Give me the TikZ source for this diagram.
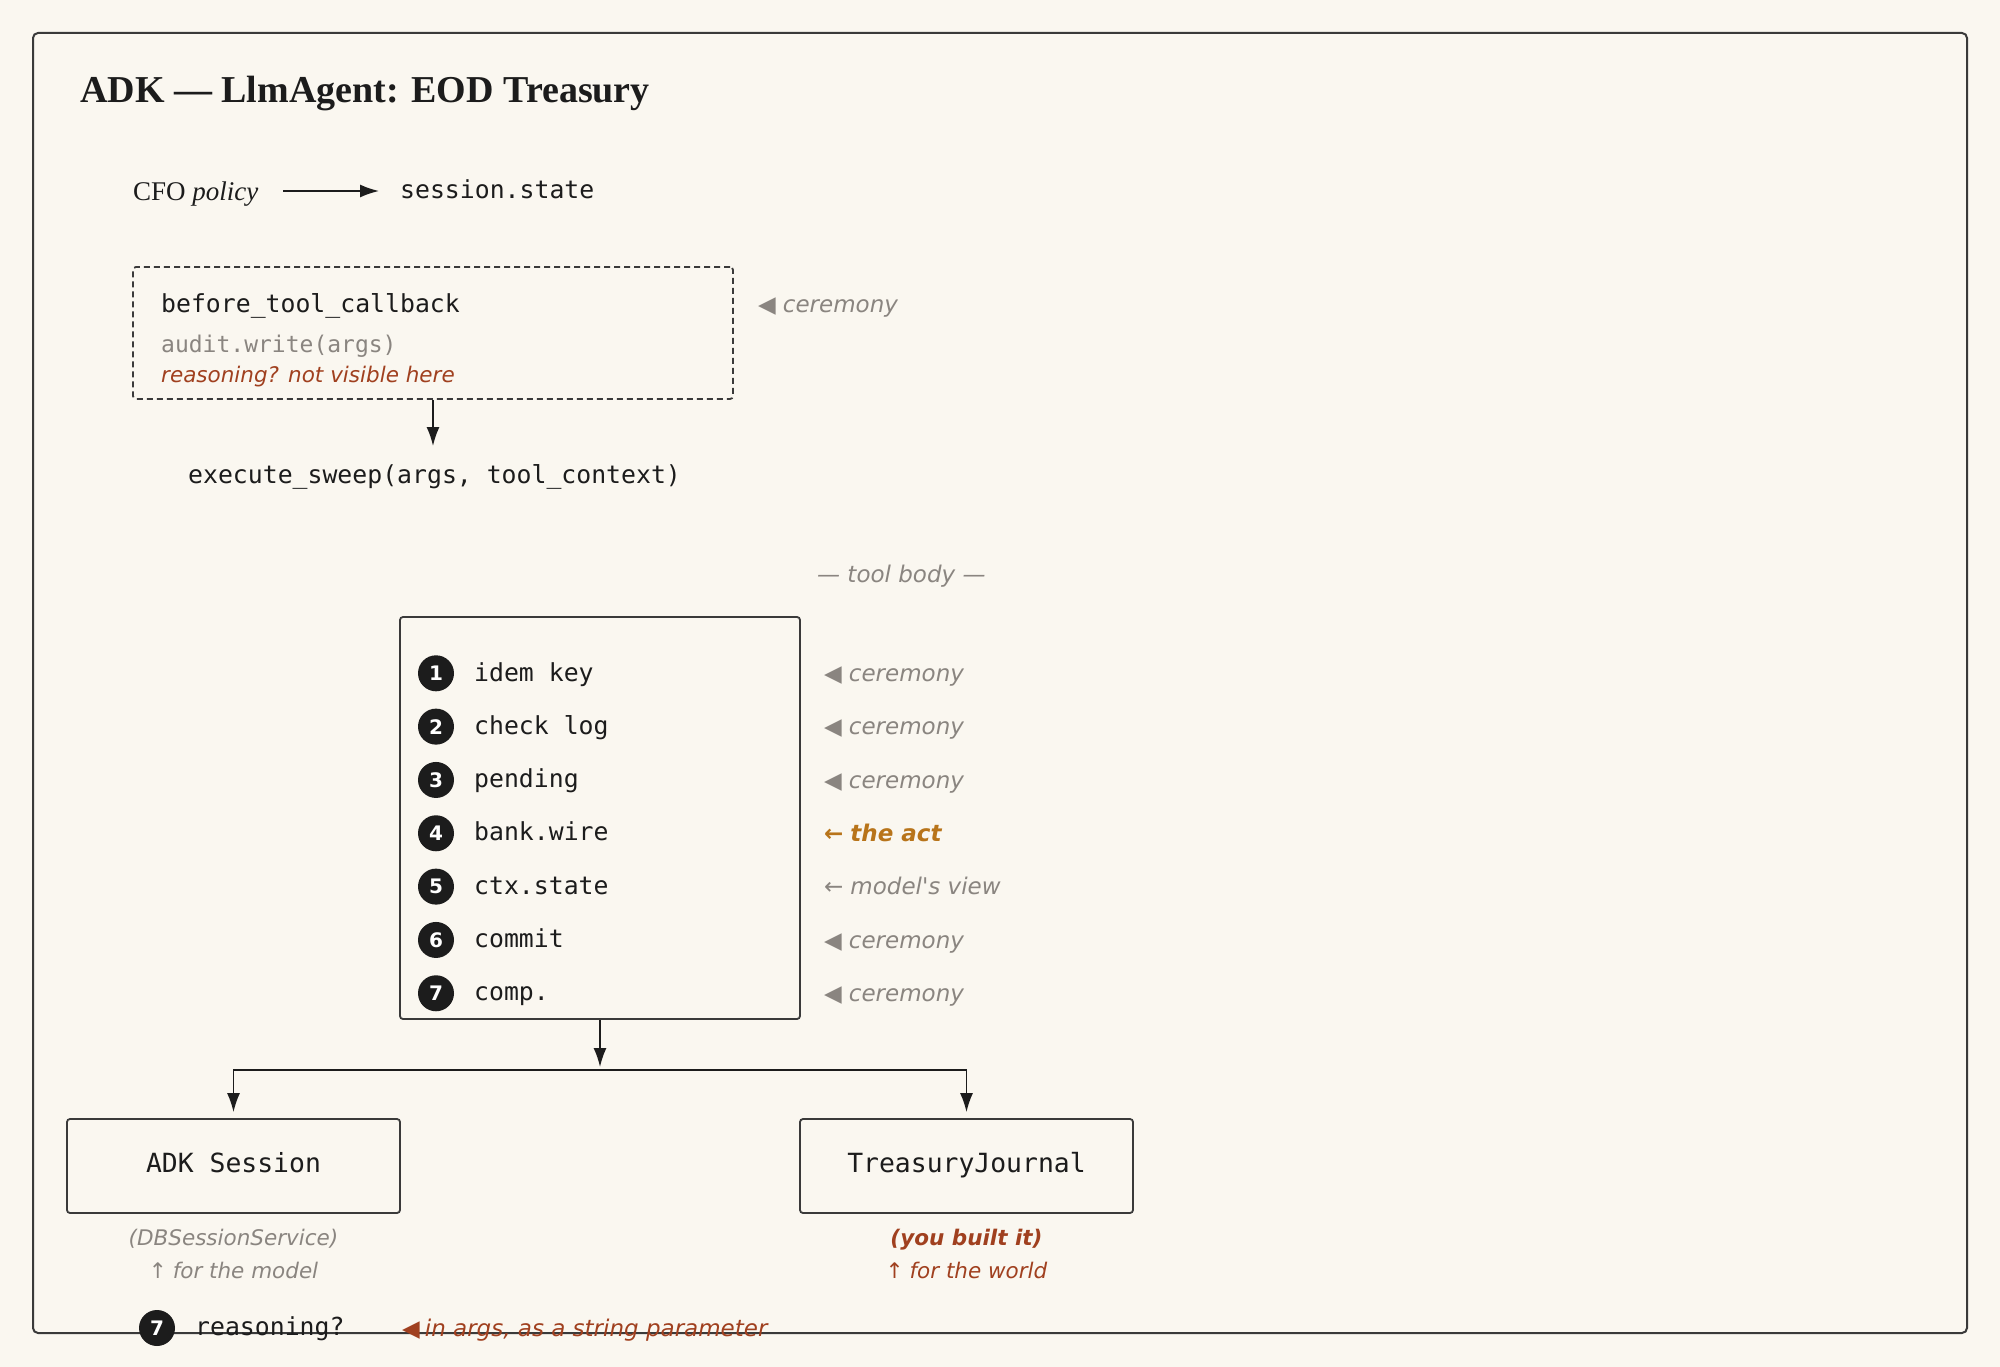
\documentclass[tikz,border=0pt]{standalone}
\usepackage{fontspec}
\setmainfont{Liberation Serif}
\newfontfamily\monof{DejaVu Sans Mono}
\newfontfamily\annf{DejaVu Sans}
\usetikzlibrary{arrows.meta}
\definecolor{bg}{HTML}{FAF7F0}
\definecolor{ink}{HTML}{1C1C1C}
\definecolor{frame}{HTML}{3A3A3A}
\definecolor{grayann}{HTML}{8A8580}
\definecolor{rust}{HTML}{A0401F}
\definecolor{amber}{HTML}{B8741A}
\tikzset{
  box/.style={draw=frame, line width=1.8bp, rounded corners=3bp, inner sep=0pt},
  mono/.style={font=\monof\fontsize{24.8bp}{30bp}\selectfont, inner sep=0pt, text height=18.8bp, text depth=6bp, text=ink},
  monobig/.style={font=\monof\fontsize{26.4bp}{32bp}\selectfont, text height=20bp, text depth=6.3bp, text=ink},
  ann/.style={font=\annf\itshape\fontsize{23bp}{28bp}\selectfont, inner sep=0pt, text=grayann},
  annsm/.style={font=\annf\itshape\fontsize{21.5bp}{26bp}\selectfont, inner sep=0pt, text=grayann},
  arr/.style={-{Latex[length=19bp,width=13bp]}, line width=1.6bp, draw=ink},
  numdot/.style={circle, fill=ink, minimum size=36bp, inner sep=0pt, text=white, font=\annf\bfseries\fontsize{20bp}{20bp}\selectfont}
}
\newcommand{\lefttri}{{\upshape ◀}\hspace{7bp}}
\newcommand{\larr}{{\upshape ←}\hspace{7bp}}
\begin{document}
\begin{tikzpicture}[x=1bp,y=-1bp]
\useasboundingbox (0,0) rectangle (2000,1367);
\fill[bg] (0,0) rectangle (2000,1367);
\draw[line width=2bp, draw=frame, rounded corners=5bp] (33,33) rectangle (1967,1333);

% title
\node[anchor=base west, inner sep=0pt, font=\bfseries\fontsize{38bp}{42bp}\selectfont, text=ink] (title) at (80,103) {ADK — LlmAgent: EOD Treasury};

% CFO policy -> session.state
\node[anchor=base west, inner sep=0pt, font=\fontsize{27bp}{30bp}\selectfont, text=ink] (cfo) at (133,201) {CFO \textit{policy}};
\node[mono, anchor=base west] (ss) at (400,199) {session.state};
\coordinate (a1) at (283,191);
\coordinate (a2) at (379,191);
\draw[arr] (a1) -- (a2);

% before_tool_callback box
\node[box, dashed, dash pattern=on 6bp off 4bp, minimum width=600bp, minimum height=132bp] (cb) at (433,333) {};
\node[mono, anchor=base west] (btc) at (161,313) {before\_tool\_callback};
\node[mono, anchor=base west, font=\monof\fontsize{23bp}{28bp}\selectfont, text=grayann] (aw) at (161,353) {audit.write(args)};
\node[annsm, anchor=base west, text=rust] (rnv) at (161,383) {reasoning? not visible here};
\node[ann, anchor=base west] (cer0) at (758,313) {\lefttri ceremony};

% execute_sweep
\node[mono, anchor=base west] (exec) at (188,483) {execute\_sweep(args, tool\_context)};
\draw[arr, shorten >=18bp] (cb.south) -- (cb.south |- exec.north);

% tool body
\node[ann, anchor=base west] (tbody) at (817,582) {— tool body —};
\node[box, minimum width=400bp, minimum height=402bp] (tb) at (600,818) {};

\foreach [count=\i] \t in {idem key, check log, pending, bank.wire, ctx.state, commit, comp.} {
  \pgfmathsetmacro\yy{673.3+(\i-1)*53.33}
  \node[numdot] (n\i) at (436,\yy) {\i};
  \node[mono, anchor=base west] (t\i) at (474,{\yy+7.7}) {\t};
}
\foreach \i in {1,2,3,6,7} {
  \pgfmathsetmacro\yy{673.3+(\i-1)*53.33+8.3}
  \node[ann, anchor=base west] (c\i) at (824,\yy) {\lefttri ceremony};
}
\node[ann, anchor=base west, text=amber, font=\annf\bfseries\itshape\fontsize{23bp}{28bp}\selectfont] (c4) at (824,{673.3+3*53.33+8.3}) {{\upshape\bfseries ←}\hspace{7bp}the act};
\node[ann, anchor=base west] (c5) at (824,{673.3+4*53.33+8.3}) {\larr model's view};

% fan-out
\coordinate (J) at (600,1070);
\node[box, monobig, minimum width=333bp, minimum height=94bp] (adk) at (233.5,1166) {ADK Session};
\node[box, monobig, minimum width=333bp, minimum height=94bp] (tj) at (966.5,1166) {TreasuryJournal};
\draw[arr, shorten >=3bp] (tb.south) -- (J);
\draw[arr, shorten >=6bp] (J) -| (adk.north);
\draw[arr, shorten >=6bp] (J) -| (tj.north);

% captions
\node[annsm, anchor=base] (dbs) at (233.5,1245) {(DBSessionService)};
\node[annsm, anchor=base] (ftm) at (233.5,1278) {{\upshape ↑}\hspace{6bp}for the model};
\node[annsm, anchor=base, text=rust, font=\annf\bfseries\itshape\fontsize{21.5bp}{26bp}\selectfont] (ybi) at (966.5,1245) {(you built it)};
\node[annsm, anchor=base, text=rust] (ftw) at (966.5,1278) {{\upshape ↑}\hspace{6bp}for the world};

% bottom line
\node[numdot] (n8) at (157,1328) {7};
\node[mono, anchor=base west] (rq) at (195,1335) {reasoning?};
\node[ann, anchor=base west, text=rust] (rqa) at (402,1336) {{\upshape ◀}\hspace{5bp}in args, as a string parameter};
\end{tikzpicture}
\end{document}
